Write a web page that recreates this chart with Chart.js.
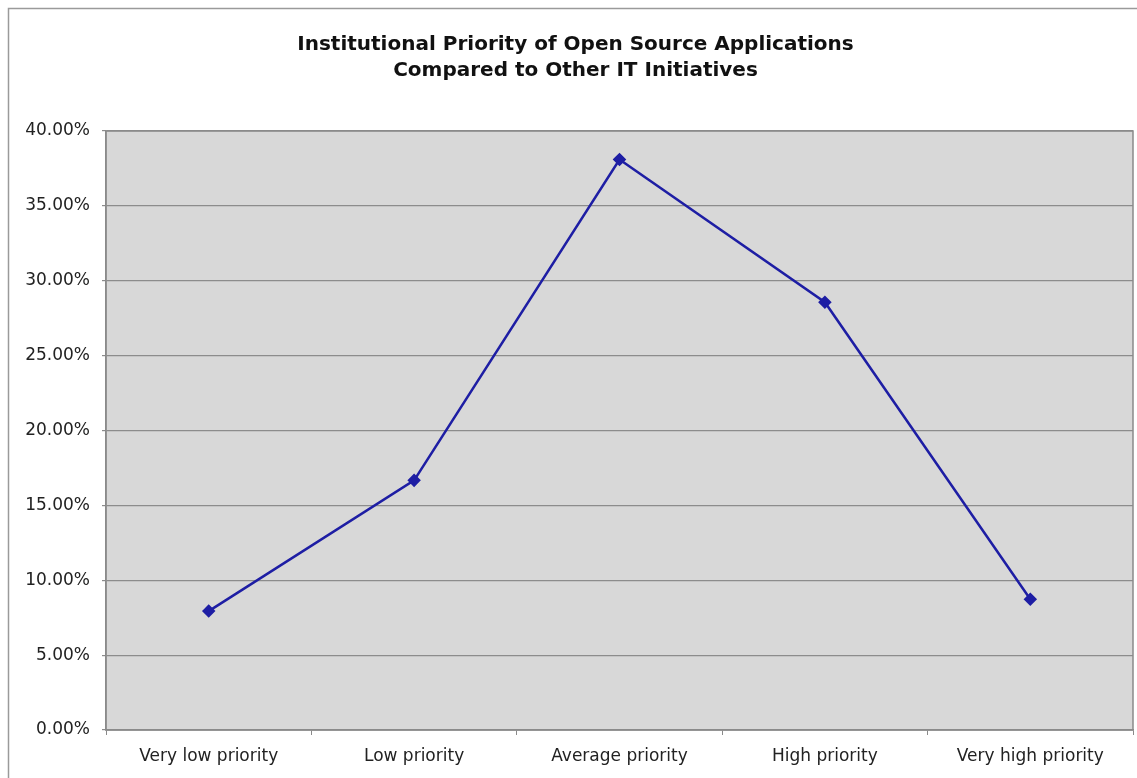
<!DOCTYPE html>
<html>
<head>
<meta charset="utf-8">
<script src="https://cdn.jsdelivr.net/npm/chart.js@4/dist/chart.umd.min.js"></script>
<style>
  html, body { margin: 0; padding: 0; background: #ffffff; }
  #wrap { width: 1137px; height: 778px; }
</style>
</head>
<body>
<div id="wrap"><canvas id="c" width="1137" height="778"></canvas></div>
<script>
// Survey responses: share of institutions per priority level (percent)
const categories = ['Very low priority', 'Low priority', 'Average priority', 'High priority', 'Very high priority'];
const shares = [7.94, 16.67, 38.10, 28.57, 8.73];
const titleLines = ['Institutional Priority of Open Source Applications', 'Compared to Other IT Initiatives'];
const yMin = 0, yMax = 40, yStep = 5;

const frameAndPlotBg = {
  id: 'frameAndPlotBg',
  beforeDraw(chart) {
    const { ctx, chartArea: a } = chart;
    ctx.save();
    ctx.fillStyle = '#ffffff';
    ctx.fillRect(0, 0, chart.width, chart.height);
    // outer frame
    ctx.strokeStyle = '#9a9a9a';
    ctx.lineWidth = 1.5;
    ctx.beginPath();
    ctx.moveTo(8.5, chart.height);
    ctx.lineTo(8.5, 8.5);
    ctx.lineTo(chart.width, 8.5);
    ctx.stroke();
    // plot area fill
    ctx.fillStyle = '#d8d8d8';
    ctx.fillRect(a.left, a.top, a.right - a.left, a.bottom - a.top);
    ctx.restore();
  },
  beforeDatasetsDraw(chart) {
    const { ctx, chartArea: a } = chart;
    ctx.save();
    ctx.strokeStyle = '#8a8a8a';
    ctx.lineWidth = 1.5;
    ctx.strokeRect(a.left, a.top, a.right - a.left, a.bottom - a.top);
    ctx.restore();
  }
};

new Chart(document.getElementById('c'), {
  type: 'line',
  data: {
    labels: categories,
    datasets: [{
      data: shares,
      borderColor: '#1e1ea4',
      backgroundColor: '#1e1ea4',
      borderWidth: 2.5,
      pointStyle: 'rectRot',
      pointRadius: 5,
      pointHoverRadius: 5,
      tension: 0,
      fill: false
    }]
  },
  options: {
    responsive: false,
    animation: false,
    devicePixelRatio: 1,
    layout: { autoPadding: false, padding: { left: 18, right: 4, top: 0, bottom: 0 } },
    plugins: {
      legend: { display: false },
      tooltip: { enabled: false },
      title: {
        display: true,
        text: titleLines,
        color: '#111111',
        font: { family: 'DejaVu Sans', weight: 'bold', size: 20, lineHeight: 1.3 },
        padding: { top: 32, bottom: 47 }
      }
    },
    scales: {
      x: {
        offset: true,
        grid: { display: true, offset: true, drawOnChartArea: false, tickLength: 5, color: '#8a8a8a' },
        border: { display: true, color: '#8a8a8a', width: 1.5 },
        ticks: { color: '#222222', font: { family: 'DejaVu Sans', size: 17 }, padding: 11, maxRotation: 0 },
        afterFit(s) { s.height = 48; s.paddingLeft = 0; s.paddingRight = 0; }
      },
      y: {
        min: yMin,
        max: yMax,
        grid: { color: '#8c8c8c', lineWidth: 1.2, tickLength: 4 },
        border: { display: true, color: '#8a8a8a', width: 1.5 },
        ticks: {
          stepSize: yStep,
          color: '#222222',
          font: { family: 'DejaVu Sans', size: 17 },
          padding: 12,
          callback: v => v.toFixed(2) + '%'
        },
        afterFit(s) { s.width = 88; }
      }
    }
  },
  plugins: [frameAndPlotBg]
});
</script>
</body>
</html>
